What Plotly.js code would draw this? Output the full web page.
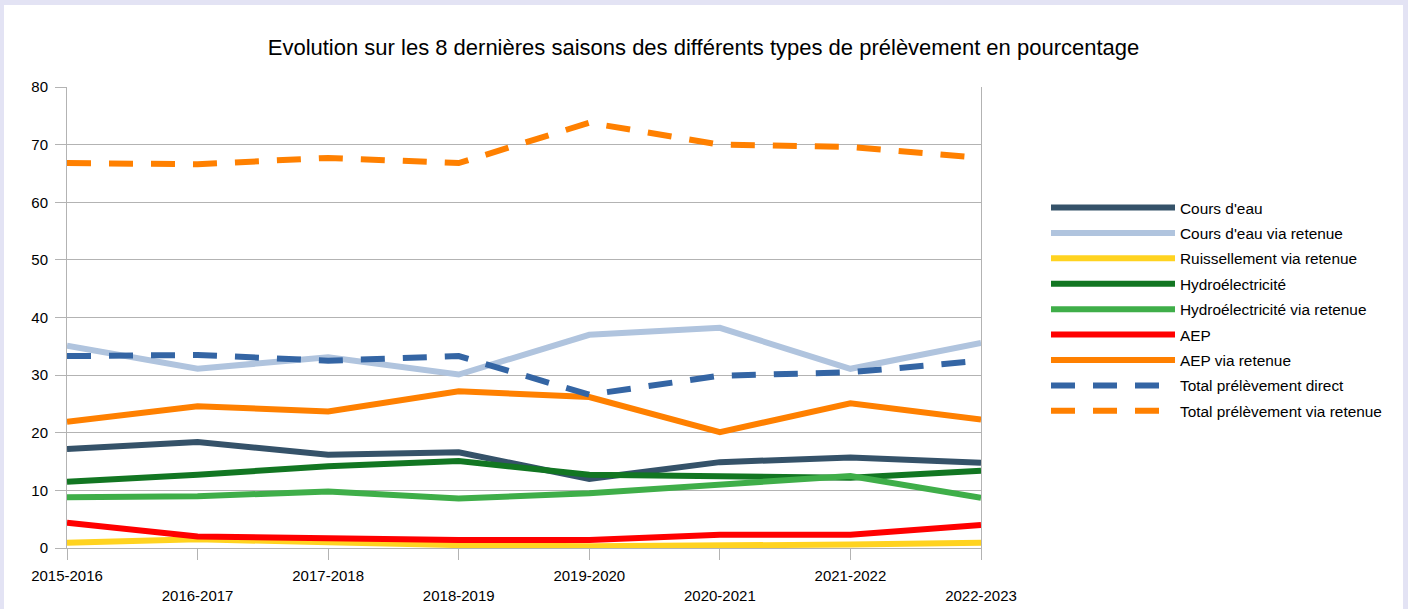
<!DOCTYPE html>
<html><head><meta charset="utf-8">
<script src="https://cdn.plot.ly/plotly-3.0.1.min.js"></script>
<style>
html,body{margin:0;padding:0;background:#e3e3f4;width:1408px;height:609px;overflow:hidden;}
#chart{position:absolute;left:4px;top:5px;width:1399px;height:604px;background:#fff;}
</style></head><body>
<div id="chart"></div>
<script>
const seasons = ["2015-2016","2016-2017","2017-2018","2018-2019","2019-2020","2020-2021","2021-2022","2022-2023"];
const coursDeau        = [17.2, 18.4, 16.2, 16.6, 12.0, 14.9, 15.7, 14.8];
const coursDeauRetenue = [35.1, 31.1, 33.1, 30.1, 37.0, 38.2, 31.1, 35.6];
const ruissRetenue     = [0.9, 1.5, 1.0, 0.5, 0.3, 0.4, 0.6, 0.9];
const hydro            = [11.5, 12.7, 14.2, 15.1, 12.7, 12.5, 12.2, 13.4];
const hydroRetenue     = [8.8, 9.0, 9.8, 8.6, 9.5, 10.9, 12.5, 8.7];
const aep              = [4.4, 2.0, 1.7, 1.4, 1.4, 2.3, 2.3, 4.0];
const aepRetenue       = [21.9, 24.6, 23.7, 27.2, 26.2, 20.1, 25.1, 22.3];
const totalDirect      = [33.3, 33.5, 32.5, 33.3, 26.6, 29.9, 30.5, 32.5];
const totalRetenue     = [66.8, 66.6, 67.7, 66.8, 73.8, 70.0, 69.6, 67.7];

const series = [
  {name:"Cours d'eau", y:coursDeau, color:"#355269", dash:"solid"},
  {name:"Cours d'eau via retenue", y:coursDeauRetenue, color:"#b0c4de", dash:"solid"},
  {name:"Ruissellement via retenue", y:ruissRetenue, color:"#ffd320", dash:"solid"},
  {name:"Hydroélectricité", y:hydro, color:"#127622", dash:"solid"},
  {name:"Hydroélectricité via retenue", y:hydroRetenue, color:"#3fae49", dash:"solid"},
  {name:"AEP", y:aep, color:"#ff0000", dash:"solid"},
  {name:"AEP via retenue", y:aepRetenue, color:"#ff8000", dash:"solid"},
  {name:"Total prélèvement direct", y:totalDirect, color:"#3465a4", dash:"24px,18px"},
  {name:"Total prélèvement via retenue", y:totalRetenue, color:"#ff8000", dash:"24px,18px"}
];

const traces = series.map((s,i)=>({
  type:"scatter", mode:"lines", x:seasons, y:s.y, name:s.name,
  legendgroup:"g"+i,
  line:{color:s.color, width:6, dash:s.dash}
}));

// staggered tick labels: odd ones pushed to a second line
const tickText = seasons.map((s,i)=> i%2===1 ? "<br>"+s : s);

const font = {family:"Liberation Sans, Arial, sans-serif", size:15, color:"#000"};

const layout = {
  width:1399, height:604,
  paper_bgcolor:"#fff", plot_bgcolor:"#fff",
  font:font,
  margin:{l:63, r:422, t:82, b:61},
  title:{text:"Evolution sur les 8 dernières saisons des différents types de prélèvement en pourcentage",
         font:{family:font.family, size:22, color:"#000"}, x:0.5, xref:"container", y:0.93, yref:"container", yanchor:"middle"},
  xaxis:{type:"category", categoryorder:"array", categoryarray:seasons, range:[0,7],
         tickmode:"array", tickvals:seasons, ticktext:tickText,
         ticks:"outside", ticklen:11, tickcolor:"#b3b3b3", tickwidth:1, showgrid:false,
         showline:true, linecolor:"#b3b3b3", linewidth:1, zeroline:false, tickfont:font,
         ticklabelstandoff:3},
  yaxis:{range:[0,80], dtick:10, tick0:0, ticks:"outside", ticklen:11, tickcolor:"#b3b3b3",
         showgrid:true, gridcolor:"#b3b3b3", gridwidth:1, showline:true, linecolor:"#b3b3b3",
         mirror:true, zeroline:false, tickfont:font, ticklabelstandoff:4},
  showlegend:true,
  legend:{xref:"container", yref:"container", x:1042/1399, y:1-186/604, xanchor:"left", yanchor:"top",
          traceorder:"grouped", tracegroupgap:2.4, itemwidth:124,
          font:{family:font.family, size:15.4, color:"#000"}, bgcolor:"rgba(0,0,0,0)"}
};

Plotly.newPlot("chart", traces, layout, {staticPlot:true, displayModeBar:false});
</script>
</body></html>
